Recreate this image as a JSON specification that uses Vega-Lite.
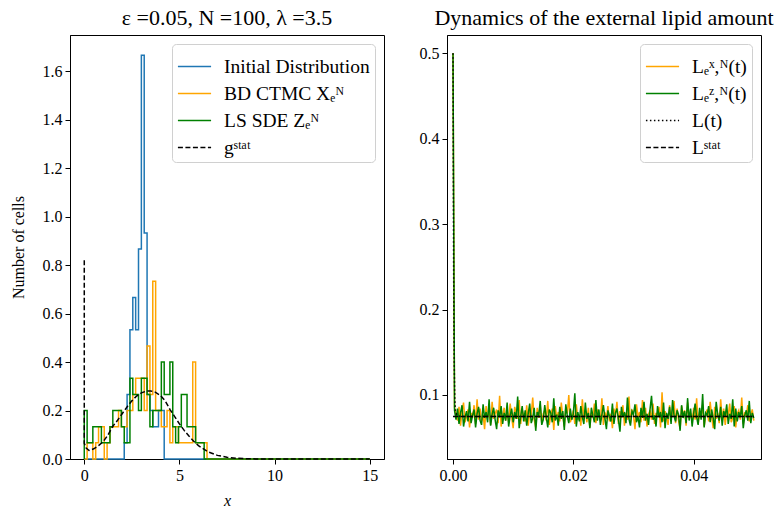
{
 "$schema": "https://vega.github.io/schema/vega-lite/v6.json",
 "background": "white",
 "padding": {"left": 9, "top": 6, "right": 4, "bottom": 4},
 "datasets": {
  "hist": [
   {"s":"I","i":0,"x":0,"y":0},{"s":"I","i":1,"x":2.1,"y":0.0667},{"s":"I","i":2,"x":2.25,"y":0.2667},{"s":"I","i":3,"x":2.4,"y":0.5333},{"s":"I","i":4,"x":2.55,"y":0.6667},{"s":"I","i":5,"x":2.7,"y":0.5333},{"s":"I","i":6,"x":2.85,"y":0.8667},{"s":"I","i":7,"x":3.0,"y":1.6667},{"s":"I","i":8,"x":3.15,"y":0.9333},{"s":"I","i":9,"x":3.3,"y":0.2667},{"s":"I","i":10,"x":3.45,"y":0.2},{"s":"I","i":11,"x":3.6,"y":0.1333},{"s":"I","i":12,"x":3.75,"y":0.1333},{"s":"I","i":13,"x":3.9,"y":0.2},{"s":"I","i":14,"x":4.05,"y":0.2},{"s":"I","i":15,"x":4.2,"y":0},{"s":"I","i":16,"x":15,"y":0},
   {"s":"B","i":0,"x":0,"y":0},{"s":"B","i":1,"x":0.15,"y":0.0667},{"s":"B","i":2,"x":0.3,"y":0.0667},{"s":"B","i":3,"x":0.45,"y":0},{"s":"B","i":4,"x":0.6,"y":0.0667},{"s":"B","i":5,"x":0.75,"y":0.1333},{"s":"B","i":6,"x":0.9,"y":0.1333},{"s":"B","i":7,"x":1.05,"y":0},{"s":"B","i":8,"x":1.2,"y":0.0667},{"s":"B","i":9,"x":1.35,"y":0.1333},{"s":"B","i":10,"x":1.5,"y":0.1333},{"s":"B","i":11,"x":1.65,"y":0.1333},{"s":"B","i":12,"x":1.8,"y":0.2},{"s":"B","i":13,"x":1.95,"y":0.1333},{"s":"B","i":14,"x":2.1,"y":0.1333},{"s":"B","i":15,"x":2.25,"y":0.2},{"s":"B","i":16,"x":2.4,"y":0.2},{"s":"B","i":17,"x":2.55,"y":0.2667},{"s":"B","i":18,"x":2.7,"y":0.3333},{"s":"B","i":19,"x":2.85,"y":0.3333},{"s":"B","i":20,"x":3.0,"y":0.3333},{"s":"B","i":21,"x":3.15,"y":0.2},{"s":"B","i":22,"x":3.3,"y":0.4667},{"s":"B","i":23,"x":3.45,"y":0.2667},{"s":"B","i":24,"x":3.6,"y":0.7333},{"s":"B","i":25,"x":3.75,"y":0.2},{"s":"B","i":26,"x":3.9,"y":0.2},{"s":"B","i":27,"x":4.05,"y":0.1333},{"s":"B","i":28,"x":4.2,"y":0.1333},{"s":"B","i":29,"x":4.35,"y":0.2},{"s":"B","i":30,"x":4.5,"y":0.0667},{"s":"B","i":31,"x":4.65,"y":0.1333},{"s":"B","i":32,"x":4.8,"y":0.1333},{"s":"B","i":33,"x":4.95,"y":0.0667},{"s":"B","i":34,"x":5.1,"y":0.0667},{"s":"B","i":35,"x":5.25,"y":0.0667},{"s":"B","i":36,"x":5.4,"y":0.0667},{"s":"B","i":37,"x":5.55,"y":0.0667},{"s":"B","i":38,"x":5.7,"y":0.4},{"s":"B","i":39,"x":5.85,"y":0.0667},{"s":"B","i":40,"x":6.0,"y":0.0667},{"s":"B","i":41,"x":6.15,"y":0.0667},{"s":"B","i":42,"x":6.3,"y":0.0667},{"s":"B","i":43,"x":6.45,"y":0},{"s":"B","i":44,"x":15,"y":0},
   {"s":"Z","i":0,"x":0,"y":0},{"s":"Z","i":1,"x":0,"y":0.2},{"s":"Z","i":2,"x":0.15,"y":0.0667},{"s":"Z","i":3,"x":0.3,"y":0.0667},{"s":"Z","i":4,"x":0.45,"y":0.1333},{"s":"Z","i":5,"x":0.6,"y":0.1333},{"s":"Z","i":6,"x":0.75,"y":0.1333},{"s":"Z","i":7,"x":0.9,"y":0.0667},{"s":"Z","i":8,"x":1.05,"y":0.0667},{"s":"Z","i":9,"x":1.2,"y":0.0667},{"s":"Z","i":10,"x":1.35,"y":0.1333},{"s":"Z","i":11,"x":1.5,"y":0.2},{"s":"Z","i":12,"x":1.65,"y":0.2},{"s":"Z","i":13,"x":1.8,"y":0.2},{"s":"Z","i":14,"x":1.95,"y":0.1333},{"s":"Z","i":15,"x":2.1,"y":0.0667},{"s":"Z","i":16,"x":2.25,"y":0.0667},{"s":"Z","i":17,"x":2.4,"y":0.3333},{"s":"Z","i":18,"x":2.55,"y":0.2667},{"s":"Z","i":19,"x":2.7,"y":0.2667},{"s":"Z","i":20,"x":2.85,"y":0.2},{"s":"Z","i":21,"x":3.0,"y":0.3333},{"s":"Z","i":22,"x":3.15,"y":0.3333},{"s":"Z","i":23,"x":3.3,"y":0.2667},{"s":"Z","i":24,"x":3.45,"y":0.1333},{"s":"Z","i":25,"x":3.6,"y":0.2},{"s":"Z","i":26,"x":3.75,"y":0.2},{"s":"Z","i":27,"x":3.9,"y":0.2},{"s":"Z","i":28,"x":4.05,"y":0.4},{"s":"Z","i":29,"x":4.2,"y":0.2667},{"s":"Z","i":30,"x":4.35,"y":0.2667},{"s":"Z","i":31,"x":4.5,"y":0.4},{"s":"Z","i":32,"x":4.65,"y":0.1333},{"s":"Z","i":33,"x":4.8,"y":0.0667},{"s":"Z","i":34,"x":4.95,"y":0.1333},{"s":"Z","i":35,"x":5.1,"y":0.2667},{"s":"Z","i":36,"x":5.25,"y":0.2667},{"s":"Z","i":37,"x":5.4,"y":0.1333},{"s":"Z","i":38,"x":5.55,"y":0.1333},{"s":"Z","i":39,"x":5.7,"y":0.1333},{"s":"Z","i":40,"x":5.85,"y":0.0667},{"s":"Z","i":41,"x":6.0,"y":0.0667},{"s":"Z","i":42,"x":6.15,"y":0.0667},{"s":"Z","i":43,"x":6.3,"y":0},{"s":"Z","i":44,"x":15,"y":0},
   {"s":"G","i":0,"x":0,"y":0.82},{"s":"G","i":1,"x":0,"y":0.065},{"s":"G","i":2,"x":0.1,"y":0.045},{"s":"G","i":3,"x":0.25,"y":0.035},{"s":"G","i":4,"x":0.5,"y":0.042},{"s":"G","i":5,"x":0.75,"y":0.055},{"s":"G","i":6,"x":1.0,"y":0.072},{"s":"G","i":7,"x":1.25,"y":0.1},{"s":"G","i":8,"x":1.5,"y":0.135},{"s":"G","i":9,"x":1.75,"y":0.16},{"s":"G","i":10,"x":2.0,"y":0.188},{"s":"G","i":11,"x":2.25,"y":0.215},{"s":"G","i":12,"x":2.5,"y":0.24},{"s":"G","i":13,"x":2.75,"y":0.26},{"s":"G","i":14,"x":3.0,"y":0.273},{"s":"G","i":15,"x":3.25,"y":0.28},{"s":"G","i":16,"x":3.5,"y":0.281},{"s":"G","i":17,"x":3.75,"y":0.275},{"s":"G","i":18,"x":4.0,"y":0.262},{"s":"G","i":19,"x":4.25,"y":0.24},{"s":"G","i":20,"x":4.5,"y":0.205},{"s":"G","i":21,"x":4.75,"y":0.175},{"s":"G","i":22,"x":5.0,"y":0.145},{"s":"G","i":23,"x":5.25,"y":0.118},{"s":"G","i":24,"x":5.5,"y":0.095},{"s":"G","i":25,"x":5.75,"y":0.073},{"s":"G","i":26,"x":6.0,"y":0.055},{"s":"G","i":27,"x":6.5,"y":0.03},{"s":"G","i":28,"x":7.0,"y":0.015},{"s":"G","i":29,"x":7.5,"y":0.007},{"s":"G","i":30,"x":8.0,"y":0.003},{"s":"G","i":31,"x":8.5,"y":0.001},{"s":"G","i":32,"x":9.0,"y":0.0005},{"s":"G","i":33,"x":10,"y":0},{"s":"G","i":34,"x":15,"y":0}
  ],
  "ts": [
   {"t":0,"X":0.5,"Z":0.5},{"t":0.00025,"X":0.085,"Z":0.082},{"t":0.0005,"X":0.077,"Z":0.071},{"t":0.00075,"X":0.070,"Z":0.084},{"t":0.001,"X":0.086,"Z":0.066},{"t":0.00125,"X":0.064,"Z":0.079},{"t":0.0015,"X":0.081,"Z":0.088},{"t":0.00175,"X":0.091,"Z":0.063},{"t":0.002,"X":0.068,"Z":0.074},{"t":0.00225,"X":0.075,"Z":0.081},{"t":0.0025,"X":0.083,"Z":0.069},{"t":0.00275,"X":0.062,"Z":0.092},{"t":0.003,"X":0.079,"Z":0.067},{"t":0.00325,"X":0.073,"Z":0.076},{"t":0.0035,"X":0.088,"Z":0.083},{"t":0.00375,"X":0.066,"Z":0.062},{"t":0.004,"X":0.095,"Z":0.078},{"t":0.00425,"X":0.071,"Z":0.086},{"t":0.0045,"X":0.084,"Z":0.070},{"t":0.00475,"X":0.069,"Z":0.065},{"t":0.005,"X":0.077,"Z":0.089},{"t":0.00525,"X":0.060,"Z":0.073},{"t":0.0055,"X":0.087,"Z":0.080},{"t":0.00575,"X":0.074,"Z":0.068},{"t":0.006,"X":0.080,"Z":0.095},{"t":0.00625,"X":0.065,"Z":0.064},{"t":0.0065,"X":0.092,"Z":0.077},{"t":0.00675,"X":0.072,"Z":0.085},{"t":0.007,"X":0.078,"Z":0.071},{"t":0.00725,"X":0.083,"Z":0.060},{"t":0.0075,"X":0.067,"Z":0.082},{"t":0.00775,"X":0.099,"Z":0.074},{"t":0.008,"X":0.063,"Z":0.087},{"t":0.00825,"X":0.076,"Z":0.066},{"t":0.0085,"X":0.085,"Z":0.079},{"t":0.00875,"X":0.070,"Z":0.070},{"t":0.009,"X":0.081,"Z":0.091},{"t":0.00925,"X":0.068,"Z":0.063},{"t":0.0095,"X":0.090,"Z":0.076},{"t":0.00975,"X":0.074,"Z":0.084},{"t":0.01,"X":0.061,"Z":0.068},{"t":0.01025,"X":0.086,"Z":0.080},{"t":0.0105,"X":0.079,"Z":0.072},{"t":0.01075,"X":0.072,"Z":0.098},{"t":0.011,"X":0.094,"Z":0.061},{"t":0.01125,"X":0.066,"Z":0.075},{"t":0.0115,"X":0.083,"Z":0.087},{"t":0.01175,"X":0.075,"Z":0.069},{"t":0.012,"X":0.069,"Z":0.082},{"t":0.01225,"X":0.088,"Z":0.064},{"t":0.0125,"X":0.064,"Z":0.078},{"t":0.01275,"X":0.080,"Z":0.090},{"t":0.013,"X":0.077,"Z":0.067},{"t":0.01325,"X":0.097,"Z":0.073},{"t":0.0135,"X":0.071,"Z":0.085},{"t":0.01375,"X":0.062,"Z":0.058},{"t":0.014,"X":0.085,"Z":0.080},{"t":0.01425,"X":0.073,"Z":0.076},{"t":0.0145,"X":0.089,"Z":0.093},{"t":0.01475,"X":0.067,"Z":0.065},{"t":0.015,"X":0.078,"Z":0.071},{"t":0.01525,"X":0.082,"Z":0.088},{"t":0.0155,"X":0.070,"Z":0.074},{"t":0.01575,"X":0.093,"Z":0.062},{"t":0.016,"X":0.065,"Z":0.083},{"t":0.01625,"X":0.076,"Z":0.079},{"t":0.0165,"X":0.084,"Z":0.068},{"t":0.01675,"X":0.059,"Z":0.096},{"t":0.017,"X":0.087,"Z":0.070},{"t":0.01725,"X":0.072,"Z":0.077},{"t":0.0175,"X":0.080,"Z":0.064},{"t":0.01775,"X":0.069,"Z":0.086},{"t":0.018,"X":0.091,"Z":0.072},{"t":0.01825,"X":0.075,"Z":0.081},{"t":0.0185,"X":0.063,"Z":0.059},{"t":0.01875,"X":0.086,"Z":0.089},{"t":0.019,"X":0.078,"Z":0.075},{"t":0.01925,"X":0.100,"Z":0.067},{"t":0.0195,"X":0.068,"Z":0.084},{"t":0.01975,"X":0.074,"Z":0.071},{"t":0.02,"X":0.082,"Z":0.078},{"t":0.02025,"X":0.066,"Z":0.102},{"t":0.0205,"X":0.089,"Z":0.063},{"t":0.02075,"X":0.071,"Z":0.080},{"t":0.021,"X":0.077,"Z":0.069},{"t":0.02125,"X":0.064,"Z":0.087},{"t":0.0215,"X":0.095,"Z":0.074},{"t":0.02175,"X":0.073,"Z":0.066},{"t":0.022,"X":0.081,"Z":0.091},{"t":0.02225,"X":0.068,"Z":0.072},{"t":0.0225,"X":0.085,"Z":0.079},{"t":0.02275,"X":0.062,"Z":0.061},{"t":0.023,"X":0.079,"Z":0.085},{"t":0.02325,"X":0.074,"Z":0.076},{"t":0.0235,"X":0.090,"Z":0.068},{"t":0.02375,"X":0.067,"Z":0.094},{"t":0.024,"X":0.083,"Z":0.070},{"t":0.02425,"X":0.076,"Z":0.083},{"t":0.0245,"X":0.070,"Z":0.065},{"t":0.02475,"X":0.096,"Z":0.077},{"t":0.025,"X":0.065,"Z":0.088},{"t":0.02525,"X":0.080,"Z":0.073},{"t":0.0255,"X":0.072,"Z":0.060},{"t":0.02575,"X":0.087,"Z":0.082},{"t":0.026,"X":0.069,"Z":0.075},{"t":0.02625,"X":0.078,"Z":0.069},{"t":0.0265,"X":0.061,"Z":0.090},{"t":0.02675,"X":0.084,"Z":0.066},{"t":0.027,"X":0.075,"Z":0.079},{"t":0.02725,"X":0.092,"Z":0.084},{"t":0.0275,"X":0.066,"Z":0.071},{"t":0.02775,"X":0.081,"Z":0.057},{"t":0.028,"X":0.073,"Z":0.086},{"t":0.02825,"X":0.088,"Z":0.074},{"t":0.0285,"X":0.064,"Z":0.080},{"t":0.02875,"X":0.079,"Z":0.067},{"t":0.029,"X":0.071,"Z":0.097},{"t":0.02925,"X":0.098,"Z":0.072},{"t":0.0295,"X":0.067,"Z":0.064},{"t":0.02975,"X":0.083,"Z":0.081},{"t":0.03,"X":0.076,"Z":0.077},{"t":0.03025,"X":0.060,"Z":0.089},{"t":0.0305,"X":0.089,"Z":0.068},{"t":0.03075,"X":0.074,"Z":0.075},{"t":0.031,"X":0.080,"Z":0.062},{"t":0.03125,"X":0.068,"Z":0.085},{"t":0.0315,"X":0.094,"Z":0.073},{"t":0.03175,"X":0.070,"Z":0.092},{"t":0.032,"X":0.085,"Z":0.070},{"t":0.03225,"X":0.063,"Z":0.078},{"t":0.0325,"X":0.077,"Z":0.065},{"t":0.03275,"X":0.082,"Z":0.083},{"t":0.033,"X":0.071,"Z":0.099},{"t":0.03325,"X":0.090,"Z":0.071},{"t":0.0335,"X":0.066,"Z":0.076},{"t":0.03375,"X":0.079,"Z":0.063},{"t":0.034,"X":0.074,"Z":0.087},{"t":0.03425,"X":0.086,"Z":0.074},{"t":0.0345,"X":0.062,"Z":0.080},{"t":0.03475,"X":0.103,"Z":0.068},{"t":0.035,"X":0.069,"Z":0.091},{"t":0.03525,"X":0.081,"Z":0.061},{"t":0.0355,"X":0.075,"Z":0.079},{"t":0.03575,"X":0.065,"Z":0.072},{"t":0.036,"X":0.088,"Z":0.086},{"t":0.03625,"X":0.072,"Z":0.066},{"t":0.0365,"X":0.078,"Z":0.094},{"t":0.03675,"X":0.093,"Z":0.075},{"t":0.037,"X":0.067,"Z":0.069},{"t":0.03725,"X":0.084,"Z":0.082},{"t":0.0375,"X":0.070,"Z":0.077},{"t":0.03775,"X":0.060,"Z":0.058},{"t":0.038,"X":0.087,"Z":0.088},{"t":0.03825,"X":0.076,"Z":0.073},{"t":0.0385,"X":0.082,"Z":0.081},{"t":0.03875,"X":0.064,"Z":0.067},{"t":0.039,"X":0.091,"Z":0.096},{"t":0.03925,"X":0.073,"Z":0.070},{"t":0.0395,"X":0.079,"Z":0.084},{"t":0.03975,"X":0.068,"Z":0.063},{"t":0.04,"X":0.085,"Z":0.078},{"t":0.04025,"X":0.071,"Z":0.090},{"t":0.0405,"X":0.096,"Z":0.074},{"t":0.04075,"X":0.066,"Z":0.065},{"t":0.041,"X":0.080,"Z":0.085},{"t":0.04125,"X":0.074,"Z":0.071},{"t":0.0415,"X":0.089,"Z":0.101},{"t":0.04175,"X":0.063,"Z":0.062},{"t":0.042,"X":0.077,"Z":0.079},{"t":0.04225,"X":0.083,"Z":0.076},{"t":0.0425,"X":0.069,"Z":0.087},{"t":0.04275,"X":0.092,"Z":0.068},{"t":0.043,"X":0.075,"Z":0.083},{"t":0.04325,"X":0.061,"Z":0.073},{"t":0.0435,"X":0.086,"Z":0.060},{"t":0.04375,"X":0.072,"Z":0.092},{"t":0.044,"X":0.079,"Z":0.077},{"t":0.04425,"X":0.067,"Z":0.070},{"t":0.0445,"X":0.095,"Z":0.086},{"t":0.04475,"X":0.070,"Z":0.064},{"t":0.045,"X":0.084,"Z":0.081},{"t":0.04525,"X":0.065,"Z":0.075},{"t":0.0455,"X":0.081,"Z":0.089},{"t":0.04575,"X":0.076,"Z":0.066},{"t":0.046,"X":0.090,"Z":0.078},{"t":0.04625,"X":0.068,"Z":0.072},{"t":0.0465,"X":0.073,"Z":0.095},{"t":0.04675,"X":0.087,"Z":0.063},{"t":0.047,"X":0.062,"Z":0.084},{"t":0.04725,"X":0.078,"Z":0.069},{"t":0.0475,"X":0.082,"Z":0.080},{"t":0.04775,"X":0.071,"Z":0.074},{"t":0.048,"X":0.097,"Z":0.087},{"t":0.04825,"X":0.066,"Z":0.061},{"t":0.0485,"X":0.080,"Z":0.076},{"t":0.04875,"X":0.074,"Z":0.082},{"t":0.049,"X":0.088,"Z":0.070},{"t":0.04925,"X":0.069,"Z":0.093},{"t":0.0495,"X":0.076,"Z":0.067},{"t":0.04975,"X":0.083,"Z":0.079},{"t":0.05,"X":0.070,"Z":0.073}
  ],
  "ref": [
   {"s":"L","t":0,"v":0.5},{"s":"L","t":0.00005,"v":0.36},{"s":"L","t":0.0001,"v":0.25},{"s":"L","t":0.00015,"v":0.18},{"s":"L","t":0.0002,"v":0.135},{"s":"L","t":0.0003,"v":0.095},{"s":"L","t":0.0004,"v":0.082},{"s":"L","t":0.0006,"v":0.077},{"s":"L","t":0.001,"v":0.0752},{"s":"L","t":0.002,"v":0.0747},{"s":"L","t":0.05,"v":0.0747},
   {"s":"S","t":0,"v":0.0747},{"s":"S","t":0.05,"v":0.0747}
  ]
 },
 "spacing": 33,
 "hconcat": [
  {
   "width": 314, "height": 424,
   "title": {"text": "ε =0.05, N =100, λ =3.5"},
   "data": {"name": "hist"},
   "encoding": {
    "x": {"field": "x", "type": "quantitative", "scale": {"domain": [-0.75, 15.75], "nice": false, "zero": false}, "axis": {"values": [0, 5, 10, 15], "title": "x", "titleFontStyle": "italic", "titlePadding": 9}},
    "y": {"field": "y", "type": "quantitative", "scale": {"domain": [0, 1.75], "nice": false}, "axis": {"values": [0, 0.2, 0.4, 0.6, 0.8, 1.0, 1.2, 1.4, 1.6], "format": ".1f", "title": "Number of cells", "titlePadding": 16}},
    "color": {"field": "s", "type": "nominal", "scale": {"domain": ["I", "B", "Z", "G"], "range": ["#1f77b4", "#ffa500", "#008000", "#000000"]}, "legend": {"title": null, "labelExpr": "datum.value == 'I' ? 'Initial Distribution' : datum.value == 'B' ? 'BD CTMC Xₑᴺ' : datum.value == 'Z' ? 'LS SDE Zₑᴺ' : 'gˢᵗᵃᵗ'"}},
    "strokeDash": {"field": "s", "type": "nominal", "scale": {"domain": ["I", "B", "Z", "G"], "range": [[1, 0], [1, 0], [1, 0], [5, 2.5]]}, "legend": {"title": null, "labelExpr": "datum.value == 'I' ? 'Initial Distribution' : datum.value == 'B' ? 'BD CTMC Xₑᴺ' : datum.value == 'Z' ? 'LS SDE Zₑᴺ' : 'gˢᵗᵃᵗ'"}},
    "order": {"field": "i", "type": "quantitative"}
   },
   "layer": [
    {"transform": [{"filter": "datum.s == 'I'"}], "mark": {"type": "line", "interpolate": "step-after", "strokeWidth": 1.5}},
    {"transform": [{"filter": "datum.s == 'B'"}], "mark": {"type": "line", "interpolate": "step-after", "strokeWidth": 1.5}},
    {"transform": [{"filter": "datum.s == 'Z'"}], "mark": {"type": "line", "interpolate": "step-after", "strokeWidth": 1.5}},
    {"transform": [{"filter": "datum.s == 'G'"}], "mark": {"type": "line", "strokeWidth": 1.5}}
   ]
  },
  {
   "width": 314, "height": 424,
   "title": {"text": "Dynamics of the external lipid amount"},
   "encoding": {
    "x": {"field": "t", "type": "quantitative", "scale": {"domain": [-0.001, 0.0512], "nice": false, "zero": false}, "axis": {"values": [0, 0.02, 0.04], "format": ".2f", "title": null}},
    "y": {"field": "v", "type": "quantitative", "scale": {"domain": [0.025, 0.5215], "nice": false, "zero": false}, "axis": {"values": [0.1, 0.2, 0.3, 0.4, 0.5], "format": ".1f", "title": null}},
    "color": {"field": "s", "type": "nominal", "scale": {"domain": ["X", "Z", "L", "S"], "range": ["#ffa500", "#008000", "#000000", "#000000"]}, "legend": {"title": null, "labelExpr": "datum.value == 'X' ? 'Lₑˣ,ᴺ(t)' : datum.value == 'Z' ? 'Lₑᶻ,ᴺ(t)' : datum.value == 'L' ? 'L(t)' : 'Lˢᵗᵃᵗ'"}},
    "strokeDash": {"field": "s", "type": "nominal", "scale": {"domain": ["X", "Z", "L", "S"], "range": [[1, 0], [1, 0], [1.5, 2.5], [5, 2.5]]}, "legend": {"title": null, "labelExpr": "datum.value == 'X' ? 'Lₑˣ,ᴺ(t)' : datum.value == 'Z' ? 'Lₑᶻ,ᴺ(t)' : datum.value == 'L' ? 'L(t)' : 'Lˢᵗᵃᵗ'"}}
   },
   "layer": [
    {"data": {"name": "ts"}, "transform": [{"fold": ["X", "Z"], "as": ["s", "v"]}, {"filter": "datum.s == 'X'"}], "mark": {"type": "line", "strokeWidth": 1.5}},
    {"data": {"name": "ts"}, "transform": [{"fold": ["X", "Z"], "as": ["s", "v"]}, {"filter": "datum.s == 'Z'"}], "mark": {"type": "line", "strokeWidth": 1.5}},
    {"data": {"name": "ref"}, "transform": [{"filter": "datum.s == 'L'"}], "mark": {"type": "line", "strokeWidth": 1.5}},
    {"data": {"name": "ref"}, "transform": [{"filter": "datum.s == 'S'"}], "mark": {"type": "line", "strokeWidth": 1.5}}
   ]
  }
 ],
 "resolve": {"scale": {"color": "independent", "strokeDash": "independent", "x": "independent", "y": "independent"}, "legend": {"color": "independent", "strokeDash": "independent"}},
 "config": {
  "font": "Liberation Serif",
  "view": {"stroke": "black", "strokeWidth": 1},
  "axis": {"grid": false, "domainColor": "black", "tickColor": "black", "labelColor": "black", "titleColor": "black", "labelFont": "Liberation Serif", "titleFont": "Liberation Serif", "labelFontSize": 16, "titleFontSize": 16, "titleFontWeight": "normal", "tickSize": 5, "labelPadding": 3},
  "title": {"font": "Liberation Serif", "fontSize": 22, "fontWeight": "normal", "color": "black", "offset": 5},
  "legend": {"labelFont": "Liberation Serif", "labelFontSize": 19.5, "labelColor": "black", "symbolType": "stroke", "symbolSize": 1100, "symbolStrokeWidth": 1.5, "strokeColor": "#d0d0d0", "fillColor": "white", "cornerRadius": 4, "padding": 5, "rowPadding": -7, "labelOffset": 12, "orient": "top-right", "offset": 9}
 }
}
